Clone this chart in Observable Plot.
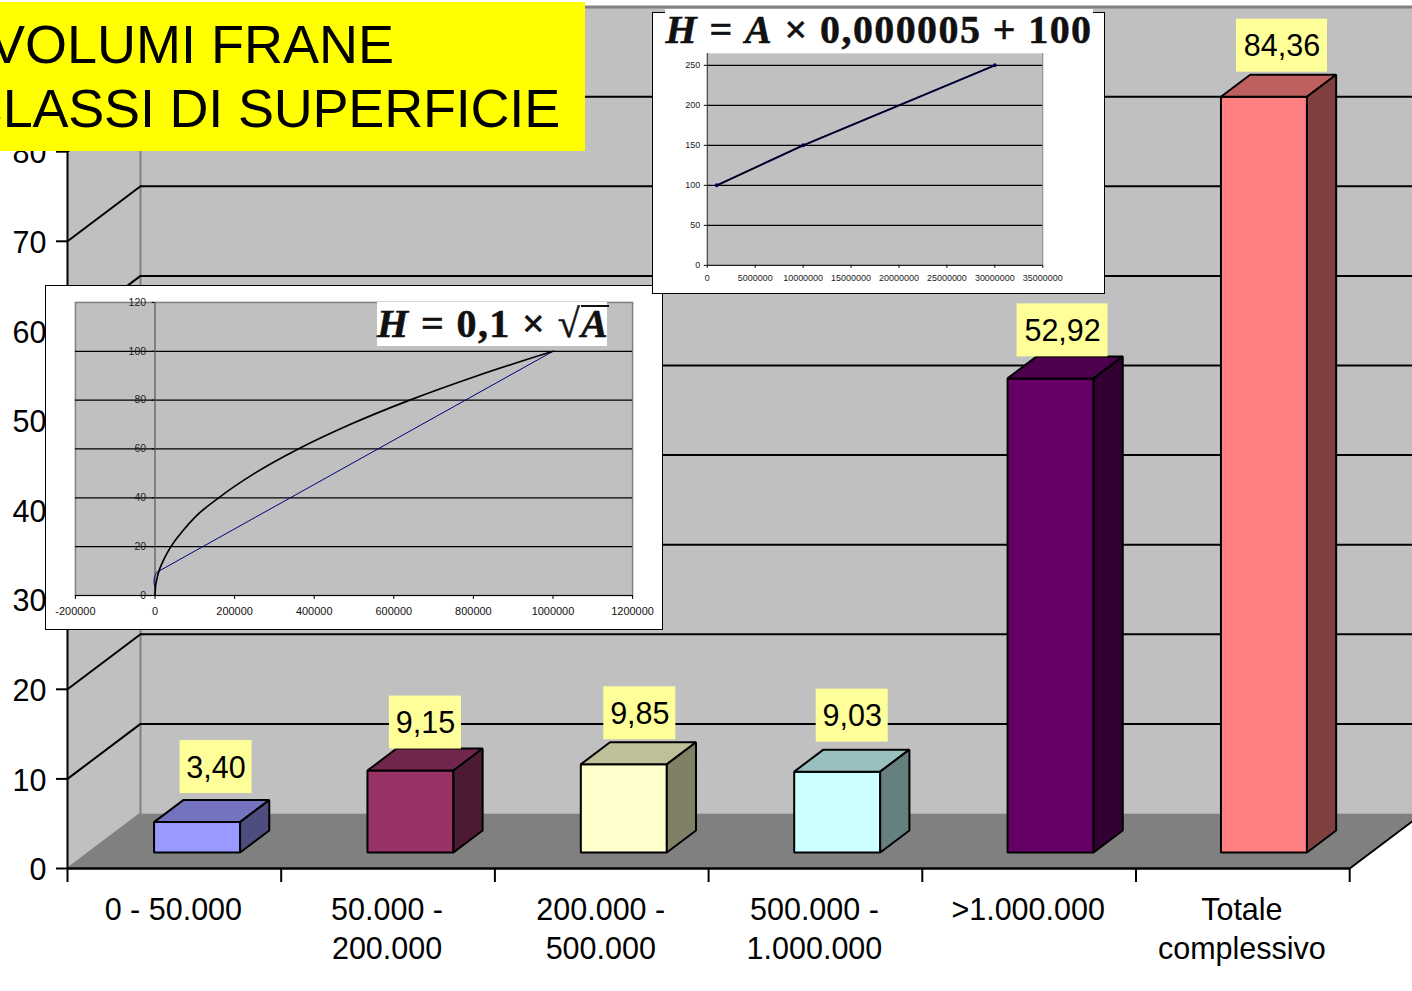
<!DOCTYPE html>
<html><head><meta charset="utf-8">
<script src="https://cdn.jsdelivr.net/npm/d3@7"></script>
<script src="https://cdn.jsdelivr.net/npm/@observablehq/plot@0.6"></script>
<style>
html,body{margin:0;padding:0;background:#fff;color:#000;width:1412px;height:991px;overflow:hidden}
#root{position:relative;width:1412px;height:991px;font-family:"Liberation Sans",Arial,sans-serif}
#root svg{display:block;background:transparent}
.abs{position:absolute}
.box{position:absolute;background:#fff;border:1px solid #000;box-sizing:border-box;overflow:visible}
.box svg{position:absolute;left:-1px;top:-1px}
#title{left:0;top:2px;width:585px;height:149px;background:#ff0;overflow:hidden;font-size:54px;line-height:64px}
#title div{position:absolute;white-space:nowrap}
.formula{position:absolute;background:#fff;font-family:"Liberation Serif",serif;font-weight:bold;white-space:nowrap;color:#111;-webkit-text-stroke:.5px #111}
.formula i{font-style:italic}
</style></head><body><div id="root"></div>
<script>
// ---------- data ----------
const categories = ["0 - 50.000","50.000 -\n200.000","200.000 -\n500.000","500.000 -\n1.000.000",">1.000.000","Totale\ncomplessivo"];
const volumes = [3.40, 9.15, 9.85, 9.03, 52.92, 84.36];
const axisValues = [0,10,20,30,40,50,60,70,80];
const frontColors = ["#9999ff","#993366","#ffffcc","#ccffff","#660066","#ff8080"];
const topColors   = ["#7373bf","#73264d","#bfbf99","#99bfbf","#4d004d","#bf6060"];
const sideColors  = ["#4d4d80","#4d1a33","#808066","#668080","#330033","#804040"];
const labelNudgeX = [19,15,16,15,12,18];
const labelNudgeY = [-55,-48,-51,-56,-48,-51];
const labelWidths = [72,72,72,72,91,91];

const linA = [1000000,10000000,30000000];
const linH = [100,150,250];
const linXTicks = [0,5000000,10000000,15000000,20000000,25000000,30000000,35000000];
const linYTicks = [0,50,100,150,200,250];

const sqrtA = [0,1000,3000,6000,10000,20000,40000,70000,100000,160000,250000,360000,490000,640000,810000,1000000];
const sqrtH = [0,3.2,5.5,7.7,10,14,20,26.5,32,40,50,60,70,80,90,100];
const blueA = [1500,-1000,-2500,-2000,1000,4000,10000,1000000];
const blueH = [2.5,3.8,5.5,7,8.5,9.5,10,100];
const sqrtXTicks = [-200000,0,200000,400000,600000,800000,1000000,1200000];
const sqrtYTicks = [0,20,40,60,80,100,120];

// ---------- main chart ----------
const root = document.getElementById("root");
const catPx = 213.7, valPx = 8.96;
const zX = 73/catPx, zY = 55/valPx;
const X = (c,z)=>c+z*zX, Y=(v,z)=>v+z*zY;
const pt = (c,v,z)=>({x:X(c,z),y:Y(v,z)});
const poly = (pts,fill,stroke,sw)=>Plot.line(pts,{x:"x",y:"y",fill,stroke:stroke||"none",strokeWidth:sw||0,curve:"linear-closed",strokeLinejoin:"miter"});
const path = (pts,stroke,sw)=>Plot.line(pts,{x:"x",y:"y",stroke,strokeWidth:sw,curve:"linear"});
const nCat = categories.length, xEnd = 1345/catPx, wallTop = 90;
const z0=.29, z1=.69, barW=.4024, barStart=.306, barStep=.9985;

const marks=[];
marks.push(poly([pt(0,0,1),pt(nCat+1,0,1),pt(nCat+1,wallTop,1),pt(0,wallTop,1)],"#c0c0c0"));
marks.push(poly([pt(0,0,0),pt(0,0,1),pt(0,wallTop,1),pt(0,wallTop,0)],"#c0c0c0"));
marks.push(poly([pt(0,0,0),pt(nCat,0,0),pt(nCat,0,1),pt(nCat+1,0,1),pt(0,0,1)],"#808080"));
marks.push(path([pt(0,0,0),pt(0,0,1),pt(0,wallTop,1)],"#808080",2));
marks.push(path([pt(0,wallTop,1),pt(nCat+1,wallTop,1)],"#808080",3));
for(const v of axisValues.slice(1)){
  marks.push(path([pt(0,v,0),pt(0,v,1),pt(nCat+1,v,1)],"#000",2));
}
marks.push(path([pt(nCat,0,0),pt(nCat,0,.86)],"#000",2));
volumes.forEach((v,i)=>{
  const c=i*barStep+barStart, w=barW;
  marks.push(poly([pt(c,0,z0),pt(c+w,0,z0),pt(c+w,v,z0),pt(c,v,z0)],frontColors[i],"#000",2));
  marks.push(poly([pt(c,v,z0),pt(c+w,v,z0),pt(c+w,v,z1),pt(c,v,z1)],topColors[i],"#000",2));
  marks.push(poly([pt(c+w,0,z0),pt(c+w,0,z1),pt(c+w,v,z1),pt(c+w,v,z0)],sideColors[i],"#000",2));
});
const labels=volumes.map((v,i)=>{
  const cx=X(i*barStep+barStart+barW/2,z0)+labelNudgeX[i]/catPx, cy=Y(v,z0)-labelNudgeY[i]/valPx;
  const hw=labelWidths[i]/2/catPx, hh=26.5/valPx;
  return {cx,cy,x1:cx-hw,x2:cx+hw,y1:cy-hh,y2:cy+hh,t:v.toFixed(2).replace(".",",")};
});
marks.push(Plot.rect(labels,{x1:"x1",x2:"x2",y1:"y1",y2:"y2",fill:"#ffff99"}));
marks.push(Plot.text(labels,{x:"cx",y:"cy",text:"t",fontSize:30.5,fill:"#000",lineAnchor:"middle",dy:1}));
marks.push(Plot.ruleX([0],{y1:0,y2:wallTop,stroke:"#000",strokeWidth:2}));
marks.push(Plot.ruleY([0],{x1:0,x2:nCat,stroke:"#000",strokeWidth:2.5}));
marks.push(Plot.axisY({ticks:axisValues,anchor:"left",tickSize:11,strokeWidth:2,stroke:"#000",tickFormat:()=>"",label:null}));
marks.push(Plot.axisY({ticks:axisValues,anchor:"left",tickSize:0,tickPadding:21,fontSize:30.5,fill:"#000",dy:2,label:null}));
marks.push(Plot.axisX({ticks:d3.range(0,nCat+1),anchor:"bottom",tickSize:14,strokeWidth:2,stroke:"#000",tickFormat:()=>"",label:null}));
marks.push(Plot.axisX({ticks:d3.range(nCat).map(i=>i+.5),anchor:"bottom",tickSize:0,tickPadding:23.5,fontSize:30.5,lineHeight:1.28,lineAnchor:"top",fill:"#000",label:null,dx:-1,tickFormat:d=>categories[d-.5]}));

root.appendChild(Plot.plot({
  width:1412,height:991,marginLeft:67,marginRight:0,marginTop:0,marginBottom:123,
  x:{domain:[0,xEnd],axis:null},y:{domain:[0,868/valPx],axis:null},
  style:{fontFamily:'"Liberation Sans",Arial,sans-serif',background:"transparent",overflow:"visible"},
  marks
}));
root.lastChild.setAttribute("class","abs");
root.lastChild.style.left="0";root.lastChild.style.top="0";

function box(left,top,w,h,svg){
  const d=document.createElement("div");d.className="box";
  d.style.cssText=`left:${left}px;top:${top}px;width:${w}px;height:${h}px`;
  d.appendChild(svg);root.appendChild(d);
}
// ---------- inset: H = 0,1 x sqrt(A) ----------
const sqrtData=sqrtA.map((a,i)=>({a,h:sqrtH[i]}));
const blueData=blueA.map((a,i)=>({a,h:blueH[i]}));
box(45,285,618,345,Plot.plot({
  width:618,height:345,marginLeft:30,marginRight:29,marginTop:17,marginBottom:34,
  x:{domain:[-200000,1200000],axis:null},y:{domain:[0,120],axis:null},
  style:{fontFamily:'"Liberation Sans",Arial,sans-serif',background:"transparent"},
  marks:[
    Plot.frame({fill:"#c0c0c0",stroke:"#808080",strokeWidth:1.5}),
    Plot.ruleY(sqrtYTicks.slice(1,-1),{stroke:"#000",strokeWidth:1.2}),
    Plot.ruleX([0],{stroke:"#555",strokeWidth:1.2}),
    Plot.ruleY([0],{stroke:"#000",strokeWidth:1.2}),
    Plot.ruleY(sqrtYTicks,{x1:-7000,x2:0,stroke:"#000",strokeWidth:1}),
    Plot.line(blueData,{x:"a",y:"h",stroke:"#000080",strokeWidth:1,curve:"linear"}),
    Plot.line(sqrtData,{x:"a",y:"h",stroke:"#000",strokeWidth:1.7,curve:"monotone-x"}),
    Plot.text(sqrtYTicks,{x:0,y:d=>d,text:d=>String(d),dx:-9,textAnchor:"end",fontSize:10.5,fill:"#222"}),
    Plot.axisX({ticks:sqrtXTicks,anchor:"bottom",tickSize:4,tickPadding:8,fontSize:11,fill:"#111",label:null,tickFormat:d=>String(d)})
  ]
}));
// ---------- inset: H = A x 0,000005 + 100 ----------
const linData=linA.map((a,i)=>({a,h:linH[i]}));
box(652,12,453,282,Plot.plot({
  width:453,height:282,marginLeft:55,marginRight:61,marginTop:41,marginBottom:28,
  x:{domain:[0,35000000],axis:null},y:{domain:[0,265],axis:null},
  style:{fontFamily:'"Liberation Sans",Arial,sans-serif',background:"transparent"},
  marks:[
    Plot.frame({fill:"#c0c0c0"}),
    Plot.ruleX([35000000],{stroke:"#808080",strokeWidth:1}),
    Plot.ruleY(linYTicks.slice(1),{stroke:"#000",strokeWidth:1.2}),
    Plot.ruleX([0],{stroke:"#222",strokeWidth:1}),
    Plot.ruleY([0],{stroke:"#222",strokeWidth:1.4}),
    Plot.line(linData,{x:"a",y:"h",stroke:"#000080",strokeWidth:2}),
    Plot.dot(linData,{x:"a",y:"h",r:2,fill:"#000080"}),
    Plot.line(linData,{x:"a",y:"h",stroke:"#000",strokeWidth:1.2}),
    Plot.axisX({ticks:linXTicks,anchor:"bottom",tickSize:3,tickPadding:6,fontSize:9,fill:"#222",label:null,tickFormat:d=>String(d)}),
    Plot.axisY({ticks:linYTicks,anchor:"left",tickSize:3,tickPadding:4,fontSize:9,fill:"#222",label:null,tickFormat:d=>String(d)})
  ]
}));
// ---------- formulae and title ----------
function addFormula(html,style){
  const d=document.createElement("div");d.className="formula";d.innerHTML=html;d.style.cssText=style;root.appendChild(d);
}
addFormula('<i>H</i> = <i>A</i> × 0,000005 + 100','left:665px;top:9px;width:428px;height:44px;font-size:40px;line-height:42px;text-align:center;letter-spacing:1.4px');
addFormula('<i>H</i> = 0,1 × √<span style="display:inline-block;border-top:2px solid #111;line-height:34px"><i>A</i></span>','left:377px;top:302px;width:230px;height:44px;font-size:40px;line-height:44px;text-align:center;letter-spacing:1.4px');
const t=document.createElement("div");t.id="title";t.className="abs";
t.innerHTML='<div style="right:191px;top:10px">VOLUMI FRANE</div><div style="right:25px;top:74px;letter-spacing:-.2px">CLASSI DI SUPERFICIE</div>';
root.appendChild(t);
</script></body></html>
